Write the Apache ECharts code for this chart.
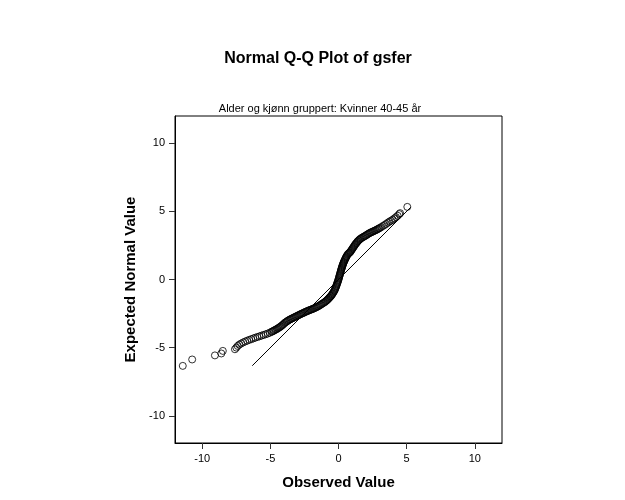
<!DOCTYPE html>
<html>
<head>
<meta charset="utf-8">
<script src="https://cdn.jsdelivr.net/npm/echarts@6/dist/echarts.min.js"></script>
<style>html,body{margin:0;padding:0;background:#fff}#c{width:625px;height:500px}</style>
</head>
<body>
<div id="c"></div>
<script>
const titleText = 'Normal Q-Q Plot of gsfer';
const subtitleText = 'Alder og kjønn gruppert: Kvinner 40-45 år';
const xName = 'Observed Value';
const yName = 'Expected Normal Value';
const tickValues = [-10, -5, 0, 5, 10];
const axisMin = -12, axisMax = 12;

const observed = [
-11.43,-10.74,-9.07,-8.60,-8.49,-7.60,-7.50,-7.40,-7.28,-7.15,-7.00,-6.85,-6.70,-6.55,-6.40,-6.25,-6.10,-5.95,-5.80,-5.65,-5.50,-5.35,-5.20,-5.05,
-4.93,-4.86,-4.79,-4.72,-4.65,-4.58,-4.51,-4.44,-4.37,-4.30,-4.23,-4.16,-4.09,-4.02,-3.95,-3.88,-3.81,-3.74,-3.67,-3.60,
-3.53,-3.46,-3.39,-3.32,-3.25,-3.18,-3.11,-3.04,-2.97,-2.90,-2.83,-2.76,-2.69,-2.62,-2.55,-2.48,-2.41,-2.34,-2.27,-2.20,-2.13,
-2.06,-1.99,-1.92,-1.85,-1.78,-1.71,-1.64,-1.57,-1.50,-1.43,-1.36,-1.29,-1.22,-1.15,-1.08,-1.01,-0.95,-0.89,-0.83,
-0.78,-0.73,-0.68,-0.63,-0.58,-0.54,-0.50,-0.46,-0.42,-0.38,-0.34,-0.30,-0.27,-0.24,-0.21,-0.18,-0.155,-0.13,-0.105,
-0.08,-0.055,-0.03,-0.005,0.02,0.04,0.06,0.08,0.10,0.12,0.14,0.16,0.18,0.20,0.22,0.24,0.26,0.28,0.30,
0.325,0.35,0.375,0.40,0.43,0.46,0.49,0.52,0.55,0.58,0.61,0.65,0.69,0.74,0.79,0.84,0.88,0.92,0.96,1.00,1.04,
1.08,1.12,1.16,1.20,1.24,1.285,1.33,1.375,1.42,1.475,1.53,1.585,1.64,1.71,1.78,1.85,1.92,1.99,2.06,2.13,2.20,2.27,
2.34,2.41,2.48,2.55,2.62,2.69,2.76,2.83,2.90,2.97,3.04,
3.14,3.26,3.38,3.50,3.62,3.74,3.86,3.98,4.10,4.22,4.34,4.46,4.52,5.05
];
const expected = [
-6.34,-5.87,-5.57,-5.43,-5.24,-5.12,-5.00,-4.88,-4.78,-4.70,-4.62,-4.55,-4.49,-4.43,-4.38,-4.32,-4.27,-4.22,-4.17,-4.12,-4.07,-4.02,-3.97,-3.91,
-3.85,-3.81,-3.78,-3.74,-3.70,-3.66,-3.63,-3.58,-3.53,-3.49,-3.44,-3.38,-3.32,-3.26,-3.19,-3.14,-3.09,-3.04,-3.00,-2.95,
-2.92,-2.88,-2.85,-2.81,-2.78,-2.74,-2.71,-2.67,-2.64,-2.60,-2.57,-2.53,-2.50,-2.47,-2.44,-2.40,-2.37,-2.34,-2.31,-2.28,-2.25,
-2.22,-2.20,-2.17,-2.14,-2.11,-2.08,-2.04,-2.01,-1.97,-1.93,-1.88,-1.84,-1.79,-1.75,-1.70,-1.66,-1.61,-1.56,-1.51,
-1.46,-1.40,-1.35,-1.30,-1.24,-1.19,-1.14,-1.08,-1.02,-0.95,-0.89,-0.82,-0.75,-0.68,-0.60,-0.53,-0.46,-0.38,-0.31,
-0.24,-0.17,-0.09,-0.02,0.07,0.14,0.22,0.29,0.36,0.43,0.50,0.58,0.65,0.72,0.78,0.85,0.91,0.98,1.04,
1.11,1.17,1.24,1.30,1.37,1.43,1.50,1.56,1.62,1.68,1.73,1.80,1.86,1.91,1.95,1.99,2.05,2.11,2.17,2.23,2.29,
2.35,2.41,2.47,2.53,2.59,2.64,2.70,2.76,2.81,2.87,2.92,2.97,3.01,3.06,3.10,3.14,3.18,3.22,3.27,3.31,3.36,3.40,
3.44,3.47,3.50,3.53,3.57,3.60,3.63,3.67,3.71,3.75,3.79,
3.85,3.93,4.00,4.08,4.17,4.25,4.32,4.39,4.48,4.58,4.68,4.80,4.87,5.33
];
// Reference line end points
const lineX = [-6.33, 5.3];
const lineY = [-6.33, 5.3];

const font = 'Arial, "Liberation Sans", sans-serif';
const points = observed.map((v, i) => [v, expected[i]]);
const linePts = lineX.map((v, i) => [v, lineY[i]]);

const chart = echarts.init(document.getElementById('c'), null, {renderer: 'canvas'});
const axisCommon = {
  type: 'value', min: axisMin, max: axisMax,
  splitLine: {show: false},
  axisLine: {show: true, onZero: false, lineStyle: {color: '#000', width: 1}},
  axisTick: {show: true, length: 6, inside: false, customValues: tickValues, lineStyle: {color: '#333', width: 1}},
  axisLabel: {customValues: tickValues, color: '#000', fontSize: 11, fontFamily: font},
  nameLocation: 'middle',
  nameTextStyle: {color: '#000', fontSize: 15, fontWeight: 'bold', fontFamily: font}
};
chart.setOption({
  animation: false,
  backgroundColor: '#fff',
  title: [
    {text: titleText, left: 313, top: 46, textAlign: 'center',
     textStyle: {fontSize: 16, fontWeight: 'bold', color: '#000', fontFamily: font}},
    {text: subtitleText, left: 315, top: 98, textAlign: 'center',
     textStyle: {fontSize: 11, fontWeight: 'normal', color: '#000', fontFamily: font}}
  ],
  grid: {left: 175, top: 116, width: 327, height: 327, show: true, borderColor: '#000', borderWidth: 1, backgroundColor: '#fff'},
  xAxis: Object.assign({}, axisCommon, {name: xName, nameGap: 32,
    axisLabel: Object.assign({}, axisCommon.axisLabel, {margin: 10})}),
  yAxis: Object.assign({}, axisCommon, {name: yName, nameGap: 36,
    axisLabel: Object.assign({}, axisCommon.axisLabel, {margin: 10})}),
  series: [
    {type: 'line', data: linePts, symbol: 'none', lineStyle: {color: '#000', width: 1}, z: 2, silent: true},
    {type: 'scatter', data: points, symbol: 'circle', symbolSize: 7,
     itemStyle: {color: 'rgba(0,0,0,0)', borderColor: '#000', borderWidth: 1}, z: 3, silent: true}
  ]
});
</script>
</body>
</html>
